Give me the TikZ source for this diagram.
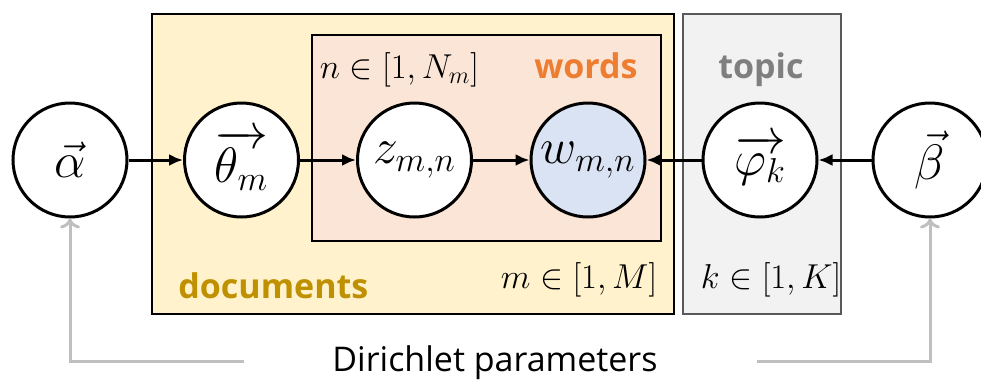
\documentclass[tikz,border=0pt]{standalone}
\usepackage{fontspec}
\setsansfont{Open Sans}
\usepackage{amsmath}
\usetikzlibrary{arrows.meta}

\tikzset{every picture/.style={line width=0.75pt}}

\begin{document}
\begin{tikzpicture}[x=0.5pt, y=-0.5pt,
    var/.style={circle, draw, line width=1.5pt, minimum size=57pt, inner sep=0pt, fill=white, font=\fontsize{23}{26}\selectfont},
    edge/.style={line width=1.5pt, -{Latex[length=7pt,width=6pt]}},
    param/.style={line width=1.5pt, color={rgb,255:red,191;green,191;blue,191}, -{To[length=5pt,width=10pt]}},
    plate/.style={line width=1pt},
    platelabel/.style={font=\sffamily\bfseries\fontsize{17}{20}\selectfont},
    platerange/.style={font=\fontsize{17}{20}\selectfont}]
    \useasboundingbox (0,0) rectangle (981,381);
    \draw[plate, fill={rgb,255:red,255;green,242;blue,204}] (152,14) rectangle (674,314);
    \draw[plate, fill={rgb,255:red,251;green,229;blue,214}] (312,35) rectangle (661,241);
    \draw[plate, draw={rgb,255:red,89;green,89;blue,89}, fill={rgb,255:red,242;green,242;blue,242}] (683,14) rectangle (841,314);
    \node[var] (alpha) at (70,160) {$\vec{\alpha}$};
    \node[var] (theta) at (241.5,160) {$\overrightarrow{\theta_m}$};
    \node[var] (z) at (414.5,160) {$z_{m,n}$};
    \node[var, fill={rgb,255:red,218;green,227;blue,243}] (w) at (588,160) {$w_{m,n}$};
    \node[var] (phi) at (760,160) {$\overrightarrow{\varphi_k}$};
    \node[var] (beta) at (930,160) {$\vec{\beta}$};
    \draw[edge] (alpha) -- (theta);
    \draw[edge] (theta) -- (z);
    \draw[edge] (z) -- (w);
    \draw[edge] (phi) -- (w);
    \draw[edge] (beta) -- (phi);
    \node[platelabel, color={rgb,255:red,191;green,144;blue,0}, anchor=base west] (documents) at (171,298) {documents};
    \node[platelabel, color={rgb,255:red,237;green,125;blue,49}, anchor=base east] (words) at (645,78) {words};
    \node[platelabel, color={rgb,255:red,127;green,127;blue,127}, anchor=base] (topic) at (761,78) {topic};
    \node[platerange, anchor=base west, inner sep=0pt] (nrange) at (319,78) {$n \in [1, N_m]$};
    \node[platerange, anchor=base east, inner sep=0pt] (mrange) at (658,288) {$m \in [1, M]$};
    \node[platerange, anchor=base west, inner sep=0pt] (krange) at (700,288) {$k \in [1, K]$};
    \node[font=\sffamily\fontsize{17}{20}\selectfont, anchor=base] (dirichlet) at (495,371) {Dirichlet parameters};
    \coordinate (lefttail) at (244,361);
    \coordinate (righttail) at (757,361);
    \draw[param] (lefttail) -| (alpha.south);
    \draw[param] (righttail) -| (beta.south);
\end{tikzpicture}
\end{document}
